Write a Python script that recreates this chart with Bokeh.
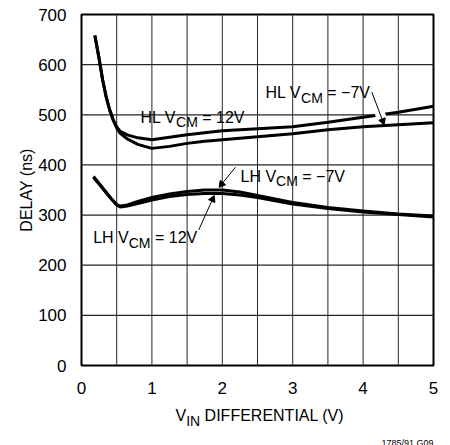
import math
from bokeh.plotting import figure
from bokeh.layouts import column
from bokeh.models import Range1d, Label
from bokeh.embed import file_html
from bokeh.resources import INLINE

# ---- data ----
hl_x = [0.19, 0.25, 0.30, 0.35, 0.40, 0.45, 0.50, 0.55, 0.65, 0.80, 1.00, 1.25, 1.50, 1.75, 2.00, 2.50, 3.00, 3.50, 4.00, 4.50, 5.00]
hl_12v = [658, 612, 570, 536, 510, 490, 476, 467, 460, 454, 450, 455, 460, 464, 468, 472, 476, 485, 495, 505, 517]
hl_m7v = [658, 612, 570, 536, 510, 490, 474, 463, 452, 441, 433, 437, 443, 447, 450, 456, 462, 470, 476, 480, 484]

lh_x = [0.17, 0.25, 0.33, 0.42, 0.50, 0.55, 0.65, 0.80, 1.00, 1.25, 1.50, 1.75, 2.00, 2.25, 2.50, 3.00, 3.50, 4.00, 4.50, 5.00]
lh_m7v = [375, 362, 348, 333, 321, 318, 320, 327, 335, 342, 347, 350, 350, 346, 339, 325, 315, 308, 302, 298]
lh_12v = [377, 363, 349, 333, 320, 316, 318, 323, 330, 337, 341, 343, 343, 340, 335, 322, 313, 306, 301, 296]

x_ticks = [0, 1, 2, 3, 4, 5]
y_ticks = [0, 100, 200, 300, 400, 500, 600, 700]
x_grid = [0.5, 1.0, 1.5, 2.0, 2.5, 3.0, 3.5, 4.0, 4.5]
y_grid = [100, 200, 300, 400, 500, 600]

FONT = "Liberation Sans"
W = {' ': 278, '=': 584, '\u2212': 584, '-': 333, 'A': 667, 'C': 722, 'D': 722, 'E': 667, 'F': 611,
     'H': 722, 'I': 278, 'L': 556, 'M': 833, 'N': 722, 'R': 722, 'T': 611, 'V': 667, 'Y': 667,
     '(': 333, ')': 333, 'n': 556, 's': 500, 'G': 778, '/': 278, '\u00a0': 278}
for d in "0123456789":
    W[d] = 556


def tw(t, size):
    return sum(W.get(c, 556) for c in t) * size / 1000.0


XS = 70.4    # px per x unit
YS = 0.5014  # px per ns
X0, X1, Y0, Y1 = x_ticks[0], x_ticks[-1], y_ticks[0], y_ticks[-1]

xr = Range1d(X0, X1)
p = figure(width=450, height=398, output_backend="svg", toolbar_location=None,
           x_range=xr, y_range=Range1d(Y0, Y1),
           min_border_left=81, min_border_right=17, min_border_top=14, min_border_bottom=33)
p.background_fill_color = "white"
p.border_fill_color = "white"
p.outline_line_color = "black"
p.outline_line_width = 2

p.xaxis.ticker = x_ticks
p.yaxis.ticker = y_ticks
for ax in (p.xaxis, p.yaxis):
    ax.axis_line_color = None
    ax.major_tick_line_color = None
    ax.minor_tick_line_color = None
    ax.major_label_text_font = FONT
    ax.major_label_text_font_size = "17px"
    ax.major_label_text_color = "black"
p.xaxis.major_label_standoff = 10
p.yaxis.major_label_standoff = 9
p.yaxis.axis_label = "DELAY (ns)"
p.yaxis.axis_label_text_font = FONT
p.yaxis.axis_label_text_font_size = "16px"
p.yaxis.axis_label_text_font_style = "normal"
p.yaxis.axis_label_text_color = "black"
p.yaxis.axis_label_standoff = 0
p.xgrid.visible = False
p.ygrid.visible = False

# grid lines
GRID = "#262626"
p.segment(x0=x_grid, y0=[Y0] * len(x_grid), x1=x_grid, y1=[Y1] * len(x_grid), line_color=GRID, line_width=1)
for g in y_grid:
    p.line([X0, X1], [g, g], line_color=GRID, line_width=1.3)

# curves
p.line(hl_x, hl_12v, line_color="black", line_width=3)
p.line(hl_x, hl_m7v, line_color="black", line_width=3)
p.line(lh_x, lh_m7v, line_color="black", line_width=3)
p.line(lh_x, lh_12v, line_color="black", line_width=3)

# leader arrows: (start x, start y, tip x, tip y)
arrows = [(4.124, 545.1, 4.294, 482.0), (2.188, 395.5, 1.964, 357.0), (1.666, 270.6, 1.879, 337.0)]

# white halo where the HL -7V arrow crosses the upper curve
a0 = arrows[0]
p.segment(x0=[a0[0] + (a0[2] - a0[0]) * 0.45], y0=[a0[1] + (a0[3] - a0[1]) * 0.45],
          x1=[a0[0] + (a0[2] - a0[0]) * 0.80], y1=[a0[1] + (a0[3] - a0[1]) * 0.80],
          line_color="white", line_width=10)

hx, hy, ha = [], [], []
for (x0, y0, x1, y1) in arrows:
    dx = (x1 - x0) * XS
    dy = (y1 - y0) * YS
    n = math.hypot(dx, dy)
    ux, uy = dx / n, dy / n
    hx.append(x1 - ux * 3.0 / XS)
    hy.append(y1 - uy * 3.0 / YS)
    ha.append(math.atan2(-dx, dy))
p.segment(x0=[a[0] for a in arrows], y0=[a[1] for a in arrows],
          x1=[a[2] for a in arrows], y1=[a[3] for a in arrows], line_color="black", line_width=1)
p.scatter(hx, hy, marker="triangle", size=7, angle=ha, fill_color="black", line_color="black", line_width=1)

# white background boxes behind the in-plot labels (left, right, bottom, top in data units)
boxes = [(0.78, 2.39, 476, 528), (2.571, 4.134, 524.5, 584.4), (2.145, 3.807, 369, 416.8), (0.099, 1.662, 235.3, 307)]
for (l, r, b, t) in boxes:
    wpx = (r - l) * XS
    hpx = (t - b) * YS
    fs = hpx / 1.16
    nsp = max(1, round(wpx / (0.278 * fs)))
    p.add_layout(Label(x=(l + r) / 2, y=(b + t) / 2, text="\u00a0" * nsp, text_font=FONT,
                       text_font_size=f"{fs:.1f}px", text_alpha=0, text_align="center",
                       text_baseline="middle", background_fill_color="white", background_fill_alpha=1.0))


def rich(fig, x, y, parts, main=16, sub=14, drop=5):
    off = 0.0
    for txt, is_sub in parts:
        size = sub if is_sub else main
        stripped = txt.lstrip(' ')
        off += tw(txt[:len(txt) - len(stripped)], size)
        fig.add_layout(Label(x=x, y=y, x_offset=off, y_offset=-drop if is_sub else 0, text=stripped,
                             text_font=FONT, text_font_size=f"{size}px", text_color="black",
                             text_align="left", text_baseline="alphabetic"))
        off += tw(stripped, size)


rich(p, 0.838, 494.6, [("HL V", False), ("CM", True), (" = 12V", False)])
rich(p, 2.614, 543.9, [("HL V", False), ("CM", True), (" = \u22127V", False)])
rich(p, 2.259, 377.5, [("LH V", False), ("CM", True), (" = \u22127V", False)])
rich(p, 0.166, 254.7, [("LH V", False), ("CM", True), (" = 12V", False)])

# strip below for the x-axis title and the figure code
p2 = figure(width=450, height=47, output_backend="svg", toolbar_location=None,
            x_range=xr, y_range=Range1d(0, 47), x_axis_type=None, y_axis_type=None,
            min_border_left=81, min_border_right=17, min_border_top=0, min_border_bottom=0)
p2.outline_line_color = None
p2.background_fill_color = "white"
p2.border_fill_color = "white"
rich(p2, 1.335, 30, [("V", False), ("IN", True), (" DIFFERENTIAL (V)", False)])
p2.add_layout(Label(x=5.0, y=2.5, text="1785/91 G09", text_font=FONT, text_font_size="9px",
                    text_color="black", text_align="right", text_baseline="alphabetic"))

layout = column(p, p2, spacing=0)
open("out.html", "w").write(file_html(layout, INLINE))
